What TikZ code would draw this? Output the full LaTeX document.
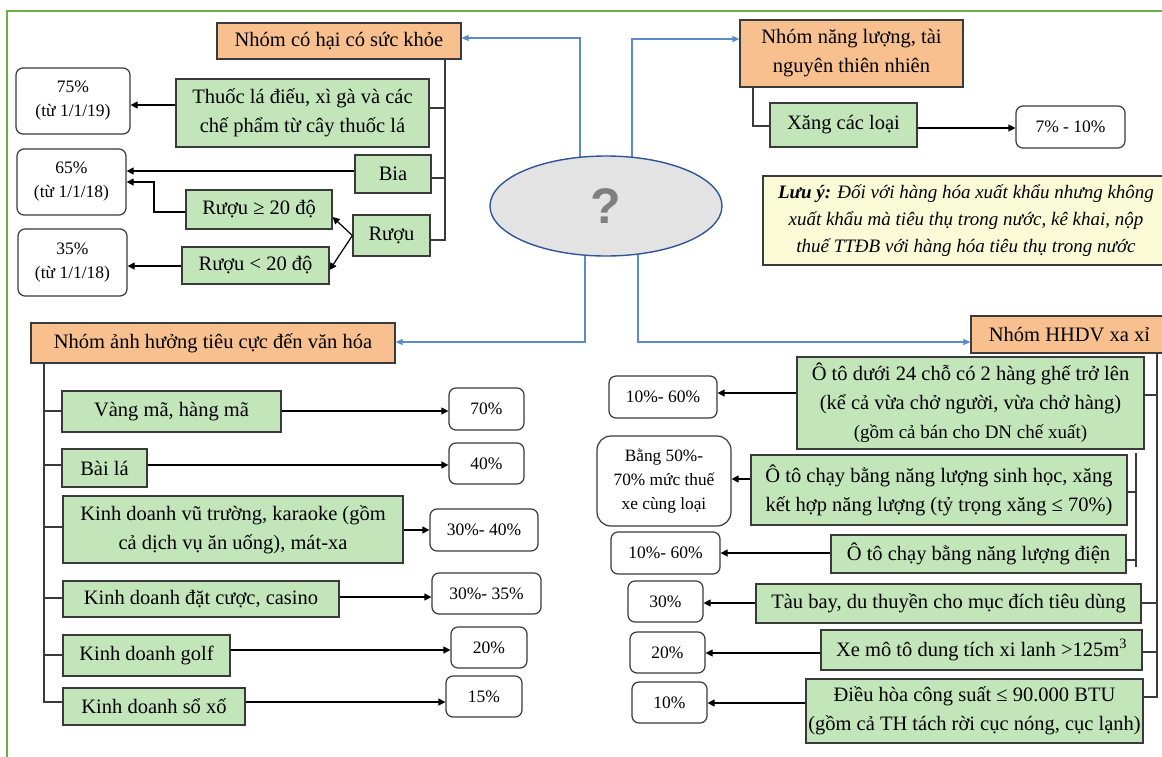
\documentclass[tikz,border=0pt]{standalone}
\usepackage{fontspec}
\setmainfont{Liberation Serif}
\newfontfamily\qfont{Liberation Sans}
\usetikzlibrary{arrows.meta,backgrounds,calc,shapes.geometric}
\definecolor{orfill}{HTML}{F8C08F}
\definecolor{grfill}{HTML}{C3E5BA}
\definecolor{notefill}{HTML}{FBFAD7}
\definecolor{ellfill}{HTML}{E3E3E3}
\definecolor{ellline}{HTML}{2F5597}
\definecolor{boxline}{HTML}{3A3A3A}
\definecolor{blueline}{HTML}{5B8BC9}
\definecolor{framecol}{HTML}{6DAE45}
\definecolor{qcol}{HTML}{7F7F7F}
\newcommand\mybox[6]{\node[#1, minimum width={(#4-#2)*1pt}, minimum height={(#5-#3)*1pt}] (#6) at ({(#2+#4)/2},{(#3+#5)/2})}
\begin{document}
\begin{tikzpicture}[x=1pt,y=-1pt,
  base/.style={draw=boxline, line width=1.2pt, inner sep=0pt, align=center},
  orbox/.style={base, fill=orfill, font=\fontsize{20.5}{29}\selectfont},
  gbox/.style={base, fill=grfill, font=\fontsize{20.5}{29}\selectfont},
  pbox/.style={base, fill=white, rounded corners=7pt, font=\fontsize{17.5}{24}\selectfont},
  notebox/.style={base, fill=notefill, font=\fontsize{19}{27}\selectfont\itshape},
  arr/.style={draw=black, line width=1.2pt, -{Triangle[length=7pt,width=7pt]}},
  tree/.style={draw=boxline, line width=1.2pt},
  bluarr/.style={draw=blueline, line width=1.3pt, -{Triangle[length=7pt,width=6pt]}},
]
\useasboundingbox (0,0) rectangle (1162,756);
\clip (0,0) rectangle (1162,756);

% ---- group: health
\mybox{orbox}{217}{23}{461}{59}{grpH} {Nhóm có hại có sức khỏe};
\mybox{gbox}{176}{79}{429}{147}{thuoc} {Thuốc lá điếu, xì gà và các\\chế phẩm từ cây thuốc lá};
\mybox{gbox}{355}{155}{431}{193}{bia} {Bia};
\mybox{gbox}{186}{190}{332}{229}{ruoug} {Rượu ≥ 20 độ};
\mybox{gbox}{353}{215}{430}{256}{ruou} {Rượu};
\mybox{gbox}{182}{247}{329}{284}{ruoul} {Rượu < 20 độ};
\mybox{pbox}{16}{68}{130}{134}{p75} {75\%\\(từ 1/1/19)};
\mybox{pbox}{17}{149}{126}{215}{p65} {65\%\\(từ 1/1/18)};
\mybox{pbox}{18}{229}{127}{296}{p35} {35\%\\(từ 1/1/18)};

% ---- group: energy
\mybox{orbox}{740}{20}{963}{87}{grpN} {Nhóm năng lượng, tài\\nguyên thiên nhiên};
\mybox{gbox}{770}{103}{917}{147}{xang} {Xăng các loại};
\mybox{pbox}{1016}{106}{1125}{148}{p710} {7\% - 10\%};

% ---- note
\mybox{notebox}{763}{176}{1169}{265}{note} {\textbf{Lưu ý:} Đối với hàng hóa xuất khẩu nhưng không\\xuất khẩu mà tiêu thụ trong nước, kê khai, nộp\\thuế TTĐB với hàng hóa tiêu thụ trong nước};

% ---- centre
\node[draw=ellline, line width=1.4pt, fill=ellfill, ellipse, minimum width=232pt, minimum height=100pt, inner sep=0pt] (q) at (606,206) {\qfont\bfseries\fontsize{50}{50}\selectfont\color{qcol}?};

% ---- group: culture
\mybox{orbox}{31}{323}{395}{363}{grpV} {Nhóm ảnh hưởng tiêu cực đến văn hóa};
\mybox{gbox}{62}{391}{281}{432}{vang} {Vàng mã, hàng mã};
\mybox{gbox}{62}{449}{147}{487}{baila} {Bài lá};
\mybox{gbox}{63}{496}{403}{563}{vutr} {Kinh doanh vũ trường, karaoke (gồm\\cả dịch vụ ăn uống), mát-xa};
\mybox{gbox}{63}{581}{339}{617}{datc} {Kinh doanh đặt cược, casino};
\mybox{gbox}{63}{635}{230}{676}{golf} {Kinh doanh golf};
\mybox{gbox}{63}{688}{245}{725}{soxo} {Kinh doanh sổ xố};
\mybox{pbox}{449}{388}{524}{430}{p70} {70\%};
\mybox{pbox}{449}{443}{524}{484}{p40} {40\%};
\mybox{pbox}{430}{509}{538}{551}{p3040} {30\%- 40\%};
\mybox{pbox}{432}{573}{541}{614}{p3035} {30\%- 35\%};
\mybox{pbox}{451}{627}{527}{668}{p20a} {20\%};
\mybox{pbox}{446}{676}{522}{717}{p15} {15\%};

% ---- group: luxury
\mybox{orbox}{971}{316}{1168}{353}{grpX} {Nhóm HHDV xa xỉ};
\mybox{gbox}{797}{357}{1144}{449}{oto24} {Ô tô dưới 24 chỗ có 2 hàng ghế trở lên\\(kể cả vừa chở người, vừa chở hàng)\\{\fontsize{19}{29}\selectfont(gồm cả bán cho DN chế xuất)}};
\mybox{gbox}{751}{455}{1127}{525}{otosh} {Ô tô chạy bằng năng lượng sinh học, xăng\\kết hợp năng lượng (tỷ trọng xăng ≤ 70\%)};
\mybox{gbox}{831}{535}{1126}{573}{otod} {Ô tô chạy bằng năng lượng điện};
\mybox{gbox}{756}{584}{1141}{623}{taub} {Tàu bay, du thuyền cho mục đích tiêu dùng};
\mybox{gbox}{821}{630}{1142}{670}{xemt} {Xe mô tô dung tích xi lanh >125m\textsuperscript{3}};
\mybox{gbox}{806}{679}{1143}{743}{dieuh} {Điều hòa công suất ≤ 90.000 BTU\\(gồm cả TH tách rời cục nóng, cục lạnh)};
\mybox{pbox}{609}{376}{717}{418}{p1060a} {10\%- 60\%};
\node[base, fill=white, rounded corners=14pt, font=\fontsize{17.3}{24}\selectfont, minimum width=134pt, minimum height=90pt] (pbang) at (664,481) {Bằng 50\%-\\70\% mức thuế\\xe cùng loại};
\mybox{pbox}{611}{532}{720}{574}{p1060b} {10\%- 60\%};
\mybox{pbox}{628}{581}{703}{622}{p30} {30\%};
\mybox{pbox}{630}{632}{705}{673}{p20b} {20\%};
\mybox{pbox}{632}{682}{707}{723}{p10} {10\%};

% ---- connectors: health
\draw[tree] (grpH.south -| 445,0) |- (ruou.east |- 0,240);
\draw[tree] (thuoc.east |- 0,108) -- ++(16,0);
\draw[tree] (bia.east |- 0,178) -- ++(14,0);
\draw[arr] (thuoc.west |- 0,105) -- (p75.east |- 0,105);
\draw[arr] (bia.west |- 0,171) -- (p65.east |- 0,171);
\draw[arr] (ruoug.west |- 0,212) -| (154,182) -- (p65.east |- 0,182);
\draw[arr] (ruou.west) -- (ruoug.east |- 0,217);
\draw[arr] (ruou.west) -- (ruoul.east |- 0,270);
\draw[arr] (ruoul.west |- 0,266) -- (p35.east |- 0,266);

% ---- connectors: energy
\draw[tree] (grpN.south -| 753,0) |- (xang.west |- 0,126);
\draw[arr] (xang.east |- 0,128) -- (p710.west |- 0,128);

% ---- connectors: culture
\draw[tree] (grpV.south -| 44,0) |- (soxo.west |- 0,702);
\draw[tree] (vang.west |- 0,411) -- ++(-18,0);
\draw[tree] (baila.west |- 0,465) -- ++(-18,0);
\draw[tree] (vutr.west |- 0,527) -- ++(-19,0);
\draw[tree] (datc.west |- 0,598) -- ++(-19,0);
\draw[tree] (golf.west |- 0,655) -- ++(-19,0);
\draw[arr] (vang.east |- 0,411) -- (p70.west |- 0,411);
\draw[arr] (baila.east |- 0,465) -- (p40.west |- 0,465);
\draw[arr] (vutr.east |- 0,530) -- (p3040.west |- 0,530);
\draw[arr] (datc.east |- 0,597) -- (p3035.west |- 0,597);
\draw[arr] (golf.east |- 0,650) -- (p20a.west |- 0,650);
\draw[arr] (soxo.east |- 0,702) -- (p15.west |- 0,702);

% ---- connectors: luxury
\draw[tree] (grpX.south -| 1157,0) |- (dieuh.east |- 0,697);
\draw[tree] (oto24.east |- 0,395) -- ++(13,0);
\draw[tree] (taub.east |- 0,603) -- ++(16,0);
\draw[tree] (xemt.east |- 0,652) -- ++(15,0);
\draw[tree] (1136,453) -- (1136,567);
\draw[tree] (otosh.east |- 0,492) -- ++(9,0);
\draw[tree] (otod.east |- 0,560) -- ++(10,0);
\draw[arr] (oto24.west |- 0,393) -- (p1060a.east |- 0,393);
\draw[arr] (otosh.west |- 0,479) -- (pbang.east |- 0,479);
\draw[arr] (otod.west |- 0,553) -- (p1060b.east |- 0,553);
\draw[arr] (taub.west |- 0,603) -- (p30.east |- 0,603);
\draw[arr] (xemt.west |- 0,653) -- (p20b.east |- 0,653);
\draw[arr] (dieuh.west |- 0,703) -- (p10.east |- 0,703);

% ---- blue connectors and background
\begin{scope}[on background layer]
\fill[white] (0,0) rectangle (1162,756);
\draw[bluarr] ($(q.center)+(-26,0)$) |- (grpH.east |- 0,38);
\draw[bluarr] ($(q.center)+(26,0)$) |- (grpN.west |- 0,39);
\draw[bluarr] ($(q.center)+(-21,0)$) |- (grpV.east |- 0,342);
\draw[bluarr] ($(q.center)+(32,0)$) |- (grpX.west |- 0,342);
\end{scope}

% ---- frame
\draw[draw=framecol, line width=2.5pt] (7,760) -- (7,11) -- (1166,11);
\end{tikzpicture}
\end{document}
